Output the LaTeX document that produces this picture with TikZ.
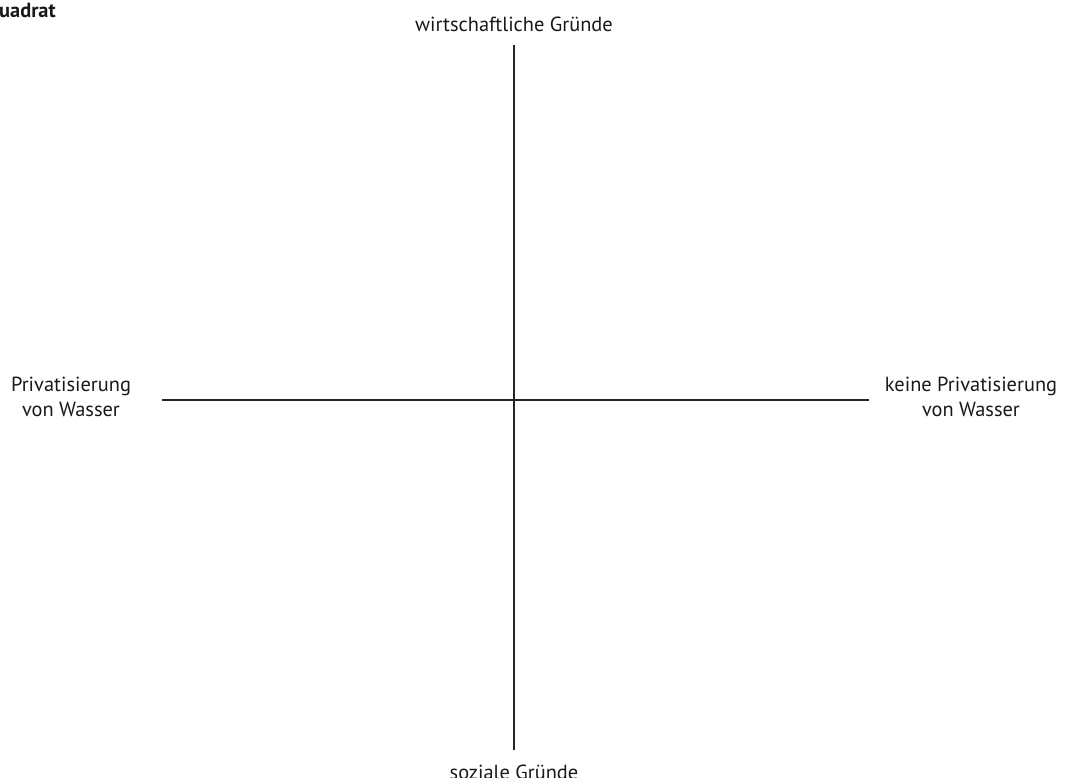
\documentclass[tikz,border=0pt]{standalone}
\usepackage{fontspec}
\setmainfont{PT Sans}
\begin{document}
\begin{tikzpicture}[x=0.75pt,y=-0.75pt,
  axis/.style={draw=black!85,line width=1.5pt},
  lbl/.style={text=black!90,font=\fontsize{15.3}{18.8}\selectfont,align=center,inner sep=0pt},
  ttl/.style={text=black!90,font=\fontsize{15.3}{18.8}\selectfont\bfseries,inner sep=0pt}]
\useasboundingbox (0,0) rectangle (1065,778);
\coordinate (top) at (514,45);
\coordinate (bot) at (514,750);
\coordinate (left) at (162,400);
\coordinate (right) at (869,400);
\draw[axis] (top) -- (bot);
\draw[axis] (left) -- (right);
\node[ttl,anchor=east] (title) at (56,12) {Quadrat};
\node[lbl] (n) at (514,24) {wirtschaftliche Gründe};
\node[lbl] (s) at (514,772) {soziale Gründe};
\node[lbl] (w) at (71,397) {Privatisierung\\von Wasser};
\node[lbl] (e) at (971,397) {keine Privatisierung\\von Wasser};
\end{tikzpicture}
\end{document}
